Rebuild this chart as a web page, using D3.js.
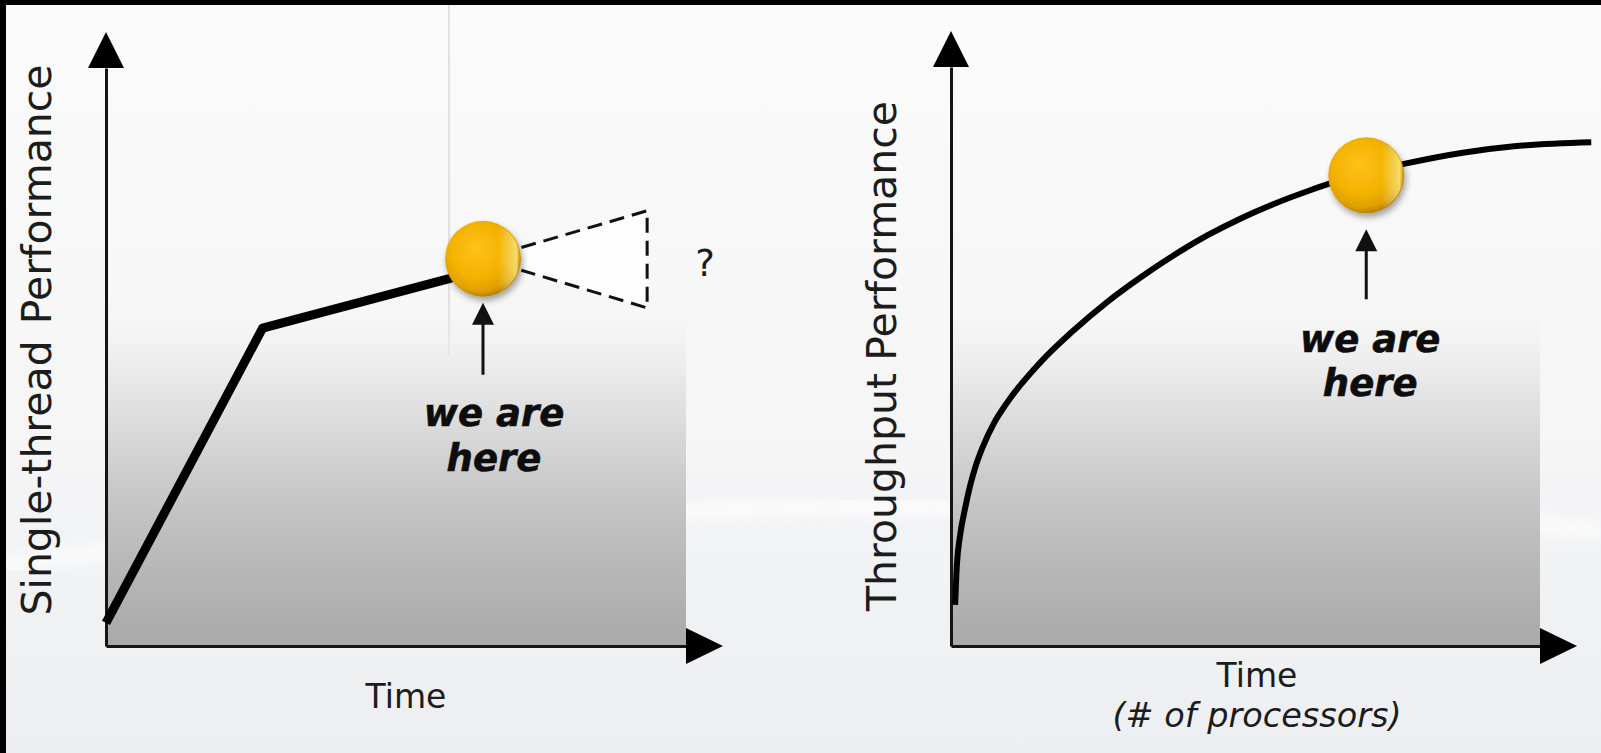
<!DOCTYPE html>
<html lang="en">
<head>
<meta charset="UTF-8">
<title>Single-thread vs Throughput Performance</title>
<script src="https://d3js.org/d3.v7.min.js"></script>
<style>
  html, body { margin: 0; padding: 0; background: #000; }
  svg { display: block; }
  .lbl { font-family: "DejaVu Sans", Verdana, sans-serif; fill: #1c1c1c; }
  .note { font-family: "DejaVu Sans", Verdana, sans-serif; font-weight: bold; font-style: italic;
          fill: #0d0d0d; stroke: #0d0d0d; stroke-width: 0.6; }
</style>
</head>
<body>
<svg id="chart" width="1601" height="753"></svg>
<script>
// left panel: single-thread performance (piecewise)
const singleTime = [0, 27, 59, 65];
const singlePerf = [4, 55, 63.5, 65.5];
const singleHere = [65, 67];
// the "?" cone ahead of the marker
const coneTime = [93.3, 93.3];
const conePerf = [75.3, 58.5];

// right panel: throughput performance
const tputTime = [0.7, 1.0, 1.5, 2.4, 3.2, 4.2, 5.4, 7.3, 9.5, 15.1, 20.7, 26.5, 32.1, 37.7,
                  43.5, 49.1, 54.7, 60.4, 66.0, 70.5, 77.1, 86.9, 95.6, 108.7];
const tputPerf = [7.1, 14.0, 18.8, 23.8, 27.5, 31.1, 34.4, 38.5, 42.0, 48.9, 54.4, 59.4, 63.6, 67.4,
                  70.9, 73.8, 76.3, 78.5, 80.4, 81.7, 83.3, 85.2, 86.3, 87.0];
const tputHere = [70.5, 81.3];

const yLabels = [["Single-thread", "Performance"], ["Throughput", "Performance"]];
const xLabels = ["Time", "Time"];
const xSubLabels = ["", "(# of processors)"];
const hereText = ["we are", "here"];

const svg = d3.select("#chart");
const defs = svg.append("defs");

// background
const bg = defs.append("linearGradient").attr("id", "bg").attr("x1", 0).attr("y1", 0).attr("x2", 0).attr("y2", 1);
bg.append("stop").attr("offset", "0%").attr("stop-color", "#fbfbfb");
bg.append("stop").attr("offset", "60%").attr("stop-color", "#f5f5f6");
bg.append("stop").attr("offset", "100%").attr("stop-color", "#eceef1");

const area = defs.append("linearGradient").attr("id", "area").attr("x1", 0).attr("y1", 0).attr("x2", 0).attr("y2", 1);
area.append("stop").attr("offset", "0%").attr("stop-color", "#f4f4f4").attr("stop-opacity", 0);
area.append("stop").attr("offset", "25%").attr("stop-color", "#e6e6e6");
area.append("stop").attr("offset", "50%").attr("stop-color", "#cdcdcd");
area.append("stop").attr("offset", "70%").attr("stop-color", "#bcbcbc");
area.append("stop").attr("offset", "100%").attr("stop-color", "#a9a9a9");

const ball = defs.append("radialGradient").attr("id", "ball")
  .attr("cx", "45%").attr("cy", "42%").attr("r", "60%").attr("fx", "40%").attr("fy", "35%");
ball.append("stop").attr("offset", "0%").attr("stop-color", "#ffc21a");
ball.append("stop").attr("offset", "60%").attr("stop-color", "#f3b200");
ball.append("stop").attr("offset", "85%").attr("stop-color", "#e0a000");
ball.append("stop").attr("offset", "100%").attr("stop-color", "#b07c00");

const rim = defs.append("linearGradient").attr("id", "rim").attr("x1", 0).attr("y1", 0).attr("x2", 1).attr("y2", 0);
rim.append("stop").attr("offset", "70%").attr("stop-color", "#fff59a").attr("stop-opacity", 0);
rim.append("stop").attr("offset", "95%").attr("stop-color", "#fff59a").attr("stop-opacity", 0.7);
rim.append("stop").attr("offset", "100%").attr("stop-color", "#fff59a").attr("stop-opacity", 0);

const shadow = defs.append("filter").attr("id", "shadow").attr("x", "-50%").attr("y", "-50%").attr("width", "200%").attr("height", "200%");
shadow.append("feDropShadow").attr("dx", 2).attr("dy", 4).attr("stdDeviation", 3).attr("flood-opacity", 0.35);

const blur = defs.append("filter").attr("id", "blur");
blur.append("feGaussianBlur").attr("stdDeviation", 6);

svg.append("rect").attr("width", 1601).attr("height", 753).attr("fill", "url(#bg)");

// faint swoosh in the backdrop
svg.append("path")
  .attr("d", "M0,565 Q700,470 1601,530")
  .attr("fill", "none").attr("stroke", "#ffffff").attr("stroke-width", 18)
  .attr("opacity", 0.6).attr("filter", "url(#blur)");
svg.append("line").attr("x1", 449).attr("x2", 449).attr("y1", 0).attr("y2", 355)
  .attr("stroke", "#d9d9d9").attr("stroke-width", 1.5);

// frame edges
svg.append("rect").attr("width", 1601).attr("height", 5).attr("fill", "#000");
svg.append("rect").attr("width", 6).attr("height", 753).attr("fill", "#000");

const panels = [
  {
    left: 106, right: 686, base: 646, top: 68, fadeTop: 300,
    time: singleTime, perf: singlePerf, here: singleHere, curve: d3.curveLinear, width: 9,
    ylab: yLabels[0], ylabX: 51, ylabY: 340, gap: 16,
    xlab: xLabels[0], xlabX: 406, xlabY: 708, sub: xSubLabels[0],
    arrowGap: 44, arrowLen: 72, textY: [167, 212], textDx: 11
  },
  {
    left: 951, right: 1540, base: 646, top: 67, fadeTop: 300,
    time: tputTime, perf: tputPerf, here: tputHere, curve: d3.curveMonotoneX, width: 6,
    ylab: yLabels[1], ylabX: 896, ylabY: 356, gap: 12,
    xlab: xLabels[1], xlabX: 1257, xlabY: 687, sub: xSubLabels[1],
    arrowGap: 54, arrowLen: 70, textY: [177, 221], textDx: 4
  }
];

const R = 38;

panels.forEach((p, i) => {
  const x = d3.scaleLinear().domain([0, 100]).range([p.left, p.right]);
  const y = d3.scaleLinear().domain([0, 100]).range([p.base, p.top]);
  const g = svg.append("g");

  // shaded area under the axes
  g.append("rect")
    .attr("x", p.left).attr("y", p.fadeTop)
    .attr("width", p.right - p.left).attr("height", p.base - p.fadeTop)
    .attr("fill", "url(#area)");

  // axes without ticks, then arrow heads
  const ax = g.append("g").attr("transform", `translate(0,${p.base})`)
    .call(d3.axisBottom(x).ticks(0).tickSizeOuter(0));
  const ay = g.append("g").attr("transform", `translate(${p.left},0)`)
    .call(d3.axisLeft(y).ticks(0).tickSizeOuter(0));
  [ax, ay].forEach(a => a.select(".domain").attr("stroke", "#151515").attr("stroke-width", 3));

  g.append("path")
    .attr("d", `M${p.right},${p.base - 18}L${p.right + 37},${p.base}L${p.right},${p.base + 18}Z`)
    .attr("fill", "#000");
  g.append("path")
    .attr("d", `M${p.left - 18},${p.top}L${p.left},${p.top - 36}L${p.left + 18},${p.top}Z`)
    .attr("fill", "#000");

  // main line
  const pts = p.time.map((t, k) => [t, p.perf[k]]);
  g.append("path")
    .datum(pts)
    .attr("d", d3.line().x(d => x(d[0])).y(d => y(d[1])).curve(p.curve))
    .attr("fill", "none").attr("stroke", "#000")
    .attr("stroke-width", p.width).attr("stroke-linejoin", "round");

  const cx = x(p.here[0]), cy = y(p.here[1]);

  // dashed cone with question mark (left panel only)
  if (i === 0) {
    const ends = coneTime.map((t, k) => [x(t), y(conePerf[k])]);
    const starts = ends.map(([ex, ey]) => {
      const dx = ex - cx, dy = ey - cy, len = Math.hypot(dx, dy);
      return [cx + dx / len * (R + 2), cy + dy / len * (R + 2)];
    });
    g.append("path")
      .attr("d", `M${starts[0]}L${ends[0]}L${ends[1]}L${starts[1]}Z`)
      .attr("fill", "#ffffff").attr("opacity", 0.8);
    g.append("path")
      .attr("d", `M${starts[0]}L${ends[0]}L${ends[1]}L${starts[1]}`)
      .attr("fill", "none").attr("stroke", "#111").attr("stroke-width", 3)
      .attr("stroke-dasharray", "15,8");
    g.append("text").attr("class", "lbl")
      .attr("x", x(103.3)).attr("y", y(66.3) + 13)
      .attr("text-anchor", "middle").attr("font-size", 37)
      .text("?");
  }

  // golden marker
  g.append("circle").attr("cx", cx).attr("cy", cy).attr("r", R)
    .attr("fill", "url(#ball)").attr("filter", "url(#shadow)");
  g.append("circle").attr("cx", cx).attr("cy", cy).attr("r", R - 1)
    .attr("fill", "url(#rim)");

  // pointer arrow and label
  const tip = cy + p.arrowGap, tail = tip + p.arrowLen;
  g.append("line").attr("x1", cx).attr("x2", cx).attr("y1", tip + 18).attr("y2", tail)
    .attr("stroke", "#111").attr("stroke-width", 3);
  g.append("path")
    .attr("d", `M${cx - 11},${tip + 22}L${cx},${tip}L${cx + 11},${tip + 22}Z`)
    .attr("fill", "#111");
  hereText.forEach((t, k) => {
    g.append("text").attr("class", "note")
      .attr("x", cx + p.textDx).attr("y", cy + p.textY[k])
      .attr("text-anchor", "middle").attr("font-size", 37)
      .text(t);
  });

  // axis titles
  const yl = g.append("text").attr("class", "lbl")
    .attr("transform", `translate(${p.ylabX},${p.ylabY}) rotate(-90)`)
    .attr("text-anchor", "middle").attr("font-size", 41);
  yl.append("tspan").text(p.ylab[0]);
  yl.append("tspan").attr("dx", p.gap).text(p.ylab[1]);

  g.append("text").attr("class", "lbl")
    .attr("x", p.xlabX).attr("y", p.xlabY)
    .attr("text-anchor", "middle").attr("font-size", 33)
    .text(p.xlab);
  if (p.sub) {
    g.append("text").attr("class", "lbl")
      .attr("x", p.xlabX).attr("y", p.xlabY + 40)
      .attr("text-anchor", "middle").attr("font-size", 33.5).attr("font-style", "italic")
      .text(p.sub);
  }
});
</script>
</body>
</html>
